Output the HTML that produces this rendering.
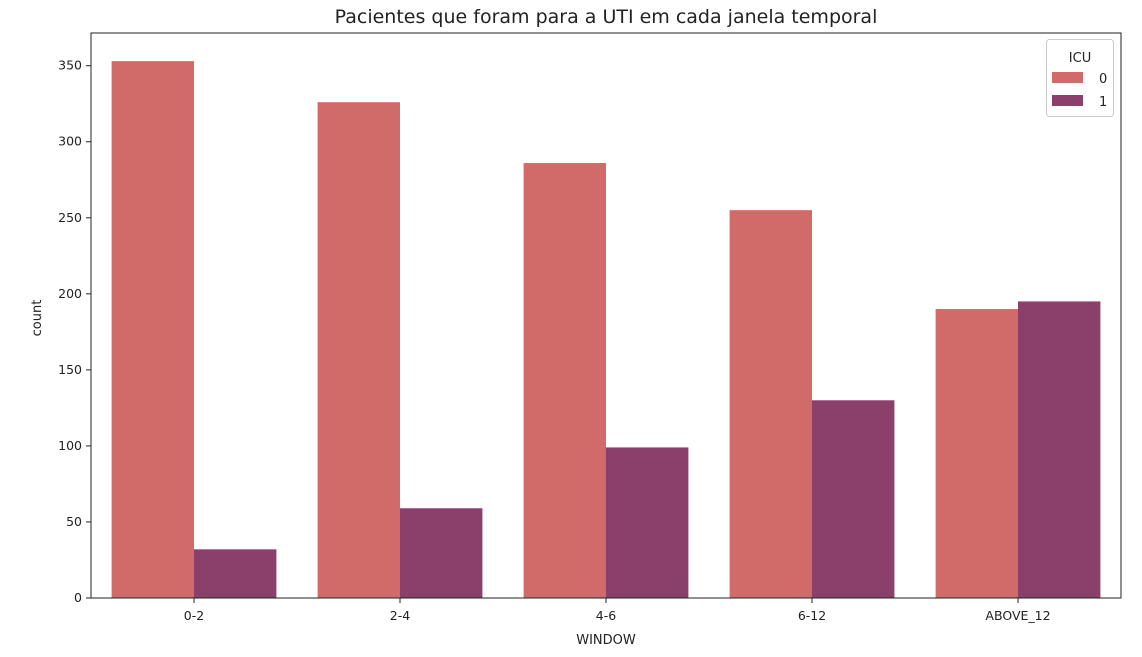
<!DOCTYPE html>
<html><head><meta charset="utf-8"><style>
body{margin:0;background:#fff;font-family:"Liberation Sans","DejaVu Sans",sans-serif;}
text{font-family:"DejaVu Sans","Liberation Sans",sans-serif;}
</style></head><body>
<svg width="1142" height="652" id="c">
<text x="606" y="23" font-size="19" text-anchor="middle" fill="#222">Pacientes que foram para a UTI em cada janela temporal</text>
<g id="bars"></g>
<g id="axes"></g>
<rect x="91" y="33" width="1030" height="565" fill="none" stroke="#222" stroke-width="1"/>
<text x="606" y="644" font-size="13" text-anchor="middle" fill="#222">WINDOW</text>
<text x="0" y="0" font-size="13" text-anchor="middle" fill="#222" transform="translate(41,318) rotate(-90)">count</text>
<g>
<rect x="1046.5" y="39.5" width="67" height="77" rx="3" fill="#fff" stroke="#ccc"/>
<text x="1080" y="62" font-size="13" text-anchor="middle" fill="#222">ICU</text>
<rect x="1052" y="72" width="31" height="11" fill="#d06b69"/>
<text x="1099" y="83" font-size="13" fill="#222">0</text>
<rect x="1052" y="95" width="31" height="11" fill="#8b3f6b"/>
<text x="1099" y="106" font-size="13" fill="#222">1</text>
</g>
</svg>
<script>
const categories=["0-2","2-4","4-6","6-12","ABOVE_12"];
const icu0=[353,326,286,255,190];
const icu1=[32,59,99,130,195];
const yTicks=[0,50,100,150,200,250,300,350];
const L=91,R=1121,T=33,B=598,ymax=371.5;
const y=v=>B-v/ymax*(B-T);
const bw=(R-L)/categories.length;
const ns="http://www.w3.org/2000/svg";
const bars=document.getElementById('bars'),axes=document.getElementById('axes');
function mk(t,a,p){const e=document.createElementNS(ns,t);for(const k in a)e.setAttribute(k,a[k]);p.appendChild(e);return e;}
categories.forEach((c,i)=>{
 const cx=L+bw*(i+0.5),w=bw*0.4;
 const r0=mk('rect',{x:cx-w,y:y(icu0[i]),width:w,height:B-y(icu0[i]),fill:'#d06b69'},bars);
 
 
 const r1=mk('rect',{x:cx,y:y(icu1[i]),width:w,height:B-y(icu1[i]),fill:'#8b3f6b'},bars);
 
 
 mk('line',{x1:cx,x2:cx,y1:B,y2:B+5,stroke:'#222'},axes);
 const t=mk('text',{x:cx,y:B+22,'font-size':12.5,'text-anchor':'middle',fill:'#222'},axes);
 t.textContent=c;
 
 
});
yTicks.forEach(v=>{
 mk('line',{x1:L-5,x2:L,y1:y(v),y2:y(v),stroke:'#222'},axes);
 const t=mk('text',{x:L-9,y:y(v)+4,'font-size':12.5,'text-anchor':'end',fill:'#222'},axes);
 t.textContent=v;
 
 
});
</script>
</body></html>
